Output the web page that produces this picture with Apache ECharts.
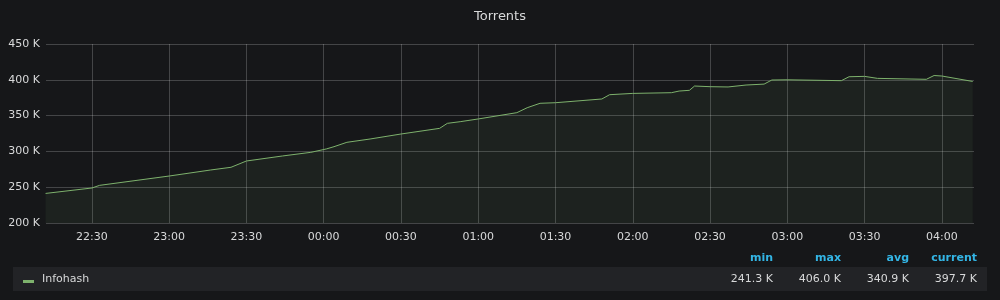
<!DOCTYPE html>
<html>
<head>
<meta charset="utf-8">
<script src="https://cdn.jsdelivr.net/npm/echarts@6/dist/echarts.min.js"></script>
<style>
html,body{margin:0;padding:0;background:#161719;}
#c{width:1000px;height:300px;}
</style>
</head>
<body>
<div id="c"></div>
<script>
const title = 'Torrents';
const seriesName = 'Infohash';
const times = ['22:12','22:30','22:33','23:00','23:16','23:24','23:30','23:44','23:55','00:01','00:04','00:09','00:18','00:30','00:45','00:48','00:53','01:00','01:15','01:19','01:24','01:30','01:48','01:51','02:00','02:15','02:18','02:22','02:24','02:30','02:37','02:44','02:51','02:54','03:00','03:21','03:24','03:30','03:35','03:54','03:57','04:00','04:12'];
const valuesK = [241.3,248.9,252.6,265.6,274.0,277.8,286.6,293.6,298.7,303.4,306.6,312.7,317.3,324.3,332.2,339.2,341.5,345.3,354.1,361.0,367.2,368.0,373.2,379.2,381.0,382.0,384.3,385.3,391.3,390.4,390.0,392.7,394.0,399.7,400.0,398.8,404.3,404.8,402.0,400.7,406.0,405.3,397.7];
const yTicks = [200000,250000,300000,350000,400000,450000];
const statHeaders = ['min','max','avg','current'];
const statValues = ['241.3 K','406.0 K','340.9 K','397.7 K'];
const axisStart = '22:12:10';
const axisEnd = '04:12:30';

function toMs(t){
  const p = t.split(':').map(Number);
  const day = p[0] >= 12 ? 1 : 2;
  return Date.UTC(2021,0,day,p[0],p[1],p[2]||0);
}
const data = times.map((t,i)=>[toMs(t), valuesK[i]*1000]);
const font = 'DejaVu Sans';
const textColor = '#d8d9da';
const gridColor = 'rgba(255,255,255,0.2)';

const statRight = [773,841,909,977];
const graphics = [
  {type:'rect', shape:{x:13,y:267,width:974,height:24}, style:{fill:'#222326'}, silent:true},
  {type:'rect', shape:{x:23,y:280,width:11,height:3}, style:{fill:'#7eb26d'}, silent:true},
  {type:'text', x:42, y:279.5, style:{text:seriesName, fill:textColor, font:'11px '+font, textVerticalAlign:'middle'}}
];
statHeaders.forEach((h,i)=>{
  graphics.push({type:'text', x:statRight[i], y:258.5, style:{text:h, fill:'#33b5e5', font:'bold 11px '+font, textAlign:'right', textVerticalAlign:'middle'}});
  graphics.push({type:'text', x:statRight[i], y:279.5, style:{text:statValues[i], fill:textColor, font:'11px '+font, textAlign:'right', textVerticalAlign:'middle'}});
});

const chart = echarts.init(document.getElementById('c'), null, {renderer:'canvas'});
chart.setOption({
  useUTC: true,
  backgroundColor:'#161719',
  animation:false,
  title:{text:title, left:'center', top:5, textStyle:{color:textColor, fontSize:13, fontWeight:'normal', fontFamily:font}},
  grid:{left:46, right:26, top:44, bottom:77, containLabel:false},
  xAxis:{
    type:'time',
    min: toMs(axisStart), max: toMs(axisEnd),
    splitNumber: 12,
    axisLine:{show:false}, axisTick:{show:false},
    splitLine:{show:true, showMinLine:false, showMaxLine:false, lineStyle:{color:gridColor, width:1}},
    axisLabel:{formatter:'{HH}:{mm}', color:textColor, fontSize:11, fontFamily:font, margin:9, showMinLabel:false, showMaxLabel:false}
  },
  yAxis:{
    type:'value', min:yTicks[0], max:yTicks[yTicks.length-1], interval:50000,
    axisLine:{show:false}, axisTick:{show:false},
    splitLine:{show:true, lineStyle:{color:gridColor, width:1}},
    axisLabel:{formatter:v=>(v/1000)+' K', color:textColor, fontSize:11, fontFamily:font, margin:6}
  },
  series:[{
    name:seriesName, type:'line', data:data, showSymbol:false, symbol:'none',
    lineStyle:{color:'#7eb26d', width:1},
    areaStyle:{color:'rgba(126,178,109,0.1)'},
    itemStyle:{color:'#7eb26d'}
  }],
  graphic: graphics
});
</script>
</body>
</html>
